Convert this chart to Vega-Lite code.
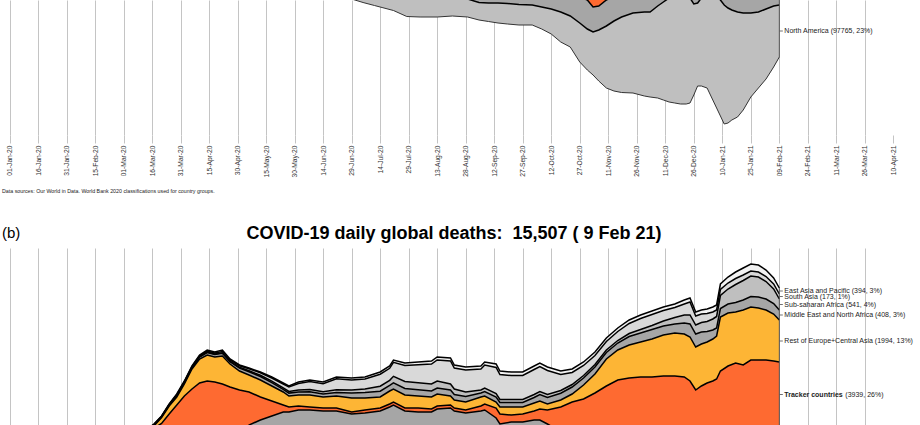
{
  "$schema": "https://vega.github.io/schema/vega-lite/v6.json",
  "background": "white",
  "padding": 0,
  "spacing": 113,
  "bounds": "flush",
  "config": {"view": {"stroke": null}, "font": "Liberation Sans"},
  "datasets": {
    "labels_a": [{"region": "NA", "lab": "North America (97765, 23%)"}],
    "labels_b": [
      {"region": "EAP", "lab": "East Asia and Pacific (394, 3%)"},
      {"region": "SA", "lab": "South Asia (173, 1%)"},
      {"region": "SSA", "lab": "Sub-saharan Africa (541, 4%)"},
      {"region": "MENA", "lab": "Middle East and North Africa (408, 3%)"},
      {"region": "ROE", "lab": "Rest of Europe+Central Asia (1994, 13%)"},
      {"region": "TRK", "lab": "Tracker countries", "extra": "(3939, 26%)"}
    ],
    "cases": [
      {"date":"2020-01-22","NA":0,"LAC":0,"TRK":0,"ROE":0,"MENA":0,"SSA":0,"SA":0,"EAP":500},
      {"date":"2020-02-05","NA":5,"LAC":0,"TRK":5,"ROE":0,"MENA":0,"SSA":0,"SA":0,"EAP":3500},
      {"date":"2020-02-19","NA":0,"LAC":0,"TRK":3,"ROE":0,"MENA":5,"SSA":0,"SA":0,"EAP":1500},
      {"date":"2020-03-01","NA":10,"LAC":2,"TRK":200,"ROE":10,"MENA":300,"SSA":0,"SA":0,"EAP":1500},
      {"date":"2020-03-08","NA":80,"LAC":10,"TRK":2000,"ROE":100,"MENA":900,"SSA":2,"SA":5,"EAP":700},
      {"date":"2020-03-15","NA":700,"LAC":100,"TRK":7500,"ROE":700,"MENA":1300,"SSA":30,"SA":20,"EAP":600},
      {"date":"2020-03-22","NA":7000,"LAC":500,"TRK":16000,"ROE":2500,"MENA":1500,"SSA":150,"SA":100,"EAP":900},
      {"date":"2020-03-29","NA":18000,"LAC":1500,"TRK":25000,"ROE":6000,"MENA":2800,"SSA":300,"SA":300,"EAP":1500},
      {"date":"2020-04-05","NA":29000,"LAC":3000,"TRK":26000,"ROE":9000,"MENA":3000,"SSA":500,"SA":700,"EAP":2500},
      {"date":"2020-04-12","NA":31000,"LAC":4500,"TRK":22000,"ROE":12000,"MENA":2500,"SSA":700,"SA":1200,"EAP":3500},
      {"date":"2020-04-19","NA":30000,"LAC":6000,"TRK":18000,"ROE":15000,"MENA":2300,"SSA":1000,"SA":1800,"EAP":3500},
      {"date":"2020-04-26","NA":31000,"LAC":8000,"TRK":15000,"ROE":16000,"MENA":2500,"SSA":1200,"SA":2200,"EAP":3000},
      {"date":"2020-05-03","NA":29000,"LAC":11000,"TRK":11000,"ROE":19000,"MENA":3500,"SSA":1500,"SA":3300,"EAP":2500},
      {"date":"2020-05-10","NA":26000,"LAC":15000,"TRK":8000,"ROE":20000,"MENA":4500,"SSA":2000,"SA":4500,"EAP":2000},
      {"date":"2020-05-17","NA":24000,"LAC":20000,"TRK":6000,"ROE":19000,"MENA":5500,"SSA":2500,"SA":6000,"EAP":1800},
      {"date":"2020-05-24","NA":23000,"LAC":26000,"TRK":4500,"ROE":17000,"MENA":6500,"SSA":3000,"SA":7500,"EAP":1800},
      {"date":"2020-05-31","NA":22000,"LAC":33000,"TRK":3500,"ROE":16000,"MENA":9000,"SSA":4000,"SA":9500,"EAP":2000},
      {"date":"2020-06-07","NA":21000,"LAC":40000,"TRK":3000,"ROE":15000,"MENA":11000,"SSA":5000,"SA":12500,"EAP":2500},
      {"date":"2020-06-14","NA":22000,"LAC":45000,"TRK":2500,"ROE":14000,"MENA":13000,"SSA":6500,"SA":15000,"EAP":3000},
      {"date":"2020-06-21","NA":29000,"LAC":50000,"TRK":2500,"ROE":14000,"MENA":14000,"SSA":8500,"SA":19000,"EAP":3500},
      {"date":"2020-06-25","NA":35000,"LAC":52000,"TRK":2500,"ROE":13500,"MENA":14500,"SSA":9500,"SA":17000,"EAP":4000},
      {"date":"2020-06-29","NA":40000,"LAC":53000,"TRK":2500,"ROE":13000,"MENA":15000,"SSA":10500,"SA":18000,"EAP":4000},
      {"date":"2020-07-05","NA":49000,"LAC":55000,"TRK":2500,"ROE":13500,"MENA":15500,"SSA":12000,"SA":20000,"EAP":2500},
      {"date":"2020-07-11","NA":58000,"LAC":56000,"TRK":2500,"ROE":12500,"MENA":14500,"SSA":12500,"SA":23000,"EAP":3000},
      {"date":"2020-07-15","NA":62000,"LAC":57000,"TRK":2500,"ROE":12500,"MENA":14500,"SSA":13000,"SA":25500,"EAP":3000},
      {"date":"2020-07-21","NA":64000,"LAC":58000,"TRK":3000,"ROE":13000,"MENA":14000,"SSA":14000,"SA":33000,"EAP":3000},
      {"date":"2020-07-28","NA":64000,"LAC":63000,"TRK":4000,"ROE":14000,"MENA":14000,"SSA":13000,"SA":48000,"EAP":6000},
      {"date":"2020-08-04","NA":58000,"LAC":62000,"TRK":5000,"ROE":14500,"MENA":13500,"SSA":11000,"SA":54000,"EAP":10000},
      {"date":"2020-08-13","NA":50000,"LAC":63000,"TRK":7000,"ROE":15000,"MENA":13000,"SSA":9000,"SA":61000,"EAP":10000},
      {"date":"2020-08-21","NA":44000,"LAC":58000,"TRK":9500,"ROE":16000,"MENA":13000,"SSA":7500,"SA":66000,"EAP":10000},
      {"date":"2020-08-29","NA":36000,"LAC":57000,"TRK":13000,"ROE":17000,"MENA":13500,"SSA":6000,"SA":74000,"EAP":11500},
      {"date":"2020-09-04","NA":35000,"LAC":56000,"TRK":16000,"ROE":18000,"MENA":14000,"SSA":5500,"SA":83000,"EAP":12500},
      {"date":"2020-09-09","NA":37000,"LAC":54000,"TRK":18000,"ROE":19000,"MENA":14500,"SSA":5000,"SA":86000,"EAP":12500},
      {"date":"2020-09-14","NA":40000,"LAC":52000,"TRK":20000,"ROE":20000,"MENA":15000,"SSA":5000,"SA":88000,"EAP":12000},
      {"date":"2020-09-19","NA":41000,"LAC":50000,"TRK":23000,"ROE":21000,"MENA":15500,"SSA":4500,"SA":89000,"EAP":12000},
      {"date":"2020-09-25","NA":41000,"LAC":50000,"TRK":27000,"ROE":23000,"MENA":16000,"SSA":4500,"SA":86000,"EAP":12500},
      {"date":"2020-10-02","NA":40000,"LAC":48000,"TRK":32000,"ROE":26000,"MENA":17000,"SSA":4500,"SA":80000,"EAP":12500},
      {"date":"2020-10-07","NA":44000,"LAC":48000,"TRK":40000,"ROE":30000,"MENA":18000,"SSA":4500,"SA":78000,"EAP":13500},
      {"date":"2020-10-12","NA":50000,"LAC":47000,"TRK":52000,"ROE":35000,"MENA":19000,"SSA":4500,"SA":75000,"EAP":13500},
      {"date":"2020-10-17","NA":60000,"LAC":47000,"TRK":70000,"ROE":42000,"MENA":20000,"SSA":4500,"SA":70000,"EAP":14500},
      {"date":"2020-10-22","NA":62000,"LAC":46000,"TRK":85000,"ROE":50000,"MENA":21000,"SSA":4500,"SA":65000,"EAP":14500},
      {"date":"2020-10-27","NA":78000,"LAC":52000,"TRK":112000,"ROE":62000,"MENA":23000,"SSA":4500,"SA":62000,"EAP":14500},
      {"date":"2020-10-31","NA":82000,"LAC":58000,"TRK":125000,"ROE":72000,"MENA":25000,"SSA":4500,"SA":58000,"EAP":15500},
      {"date":"2020-11-03","NA":86000,"LAC":50000,"TRK":140000,"ROE":80000,"MENA":26000,"SSA":4500,"SA":56000,"EAP":17500},
      {"date":"2020-11-06","NA":102000,"LAC":48000,"TRK":148000,"ROE":88000,"MENA":27000,"SSA":4500,"SA":50000,"EAP":16500},
      {"date":"2020-11-10","NA":124000,"LAC":52000,"TRK":150000,"ROE":95000,"MENA":28000,"SSA":5000,"SA":46000,"EAP":12000},
      {"date":"2020-11-14","NA":140000,"LAC":50000,"TRK":145000,"ROE":100000,"MENA":29000,"SSA":5000,"SA":43000,"EAP":12000},
      {"date":"2020-11-18","NA":151000,"LAC":48000,"TRK":138000,"ROE":105000,"MENA":30000,"SSA":5500,"SA":40000,"EAP":12500},
      {"date":"2020-11-24","NA":160000,"LAC":47000,"TRK":125000,"ROE":108000,"MENA":30000,"SSA":6000,"SA":42000,"EAP":14000},
      {"date":"2020-11-30","NA":168000,"LAC":50000,"TRK":118000,"ROE":112000,"MENA":29000,"SSA":7000,"SA":40000,"EAP":20000},
      {"date":"2020-12-03","NA":170000,"LAC":52000,"TRK":112000,"ROE":120000,"MENA":28000,"SSA":8000,"SA":38000,"EAP":20000},
      {"date":"2020-12-07","NA":184000,"LAC":54000,"TRK":105000,"ROE":118000,"MENA":27000,"SSA":9000,"SA":35000,"EAP":20000},
      {"date":"2020-12-10","NA":196000,"LAC":55000,"TRK":104000,"ROE":115000,"MENA":26000,"SSA":10000,"SA":33000,"EAP":21000},
      {"date":"2020-12-13","NA":208000,"LAC":56000,"TRK":105000,"ROE":112000,"MENA":25000,"SSA":11000,"SA":30000,"EAP":21000},
      {"date":"2020-12-16","NA":216000,"LAC":57000,"TRK":108000,"ROE":108000,"MENA":24000,"SSA":12000,"SA":27000,"EAP":20000},
      {"date":"2020-12-19","NA":220000,"LAC":58000,"TRK":112000,"ROE":105000,"MENA":23000,"SSA":13000,"SA":25000,"EAP":20000},
      {"date":"2020-12-22","NA":218000,"LAC":58000,"TRK":118000,"ROE":100000,"MENA":22000,"SSA":15000,"SA":24000,"EAP":21000},
      {"date":"2020-12-24","NA":210000,"LAC":58000,"TRK":122000,"ROE":98000,"MENA":21000,"SSA":16000,"SA":23000,"EAP":24000},
      {"date":"2020-12-26","NA":182000,"LAC":55000,"TRK":122000,"ROE":95000,"MENA":20000,"SSA":17000,"SA":22000,"EAP":27000},
      {"date":"2020-12-28","NA":166000,"LAC":52000,"TRK":115000,"ROE":90000,"MENA":19000,"SSA":17000,"SA":21000,"EAP":24000},
      {"date":"2020-12-30","NA":176000,"LAC":52000,"TRK":112000,"ROE":85000,"MENA":18000,"SSA":18000,"SA":20000,"EAP":23000},
      {"date":"2021-01-02","NA":192000,"LAC":52000,"TRK":112000,"ROE":80000,"MENA":17000,"SSA":19000,"SA":19000,"EAP":21000},
      {"date":"2021-01-05","NA":216000,"LAC":56000,"TRK":125000,"ROE":78000,"MENA":16500,"SSA":20000,"SA":18500,"EAP":30000},
      {"date":"2021-01-07","NA":224000,"LAC":60000,"TRK":135000,"ROE":80000,"MENA":16000,"SSA":21000,"SA":18000,"EAP":38000},
      {"date":"2021-01-09","NA":232000,"LAC":64000,"TRK":145000,"ROE":82000,"MENA":16000,"SSA":22000,"SA":18000,"EAP":45000},
      {"date":"2021-01-11","NA":238000,"LAC":68000,"TRK":160000,"ROE":90000,"MENA":16000,"SSA":22000,"SA":17000,"EAP":45000},
      {"date":"2021-01-13","NA":230000,"LAC":68000,"TRK":160000,"ROE":90000,"MENA":16000,"SSA":22000,"SA":17000,"EAP":49000},
      {"date":"2021-01-15","NA":220000,"LAC":70000,"TRK":158000,"ROE":90000,"MENA":16000,"SSA":21000,"SA":16000,"EAP":49000},
      {"date":"2021-01-18","NA":210000,"LAC":70000,"TRK":158000,"ROE":95000,"MENA":16000,"SSA":20000,"SA":16000,"EAP":43000},
      {"date":"2021-01-21","NA":194000,"LAC":70000,"TRK":150000,"ROE":92000,"MENA":16000,"SSA":18000,"SA":15000,"EAP":45000},
      {"date":"2021-01-25","NA":168000,"LAC":68000,"TRK":132000,"ROE":88000,"MENA":17000,"SSA":15000,"SA":14000,"EAP":46000},
      {"date":"2021-01-29","NA":152000,"LAC":66000,"TRK":125000,"ROE":88000,"MENA":17000,"SSA":12000,"SA":13000,"EAP":39000},
      {"date":"2021-02-02","NA":140000,"LAC":64000,"TRK":112000,"ROE":82000,"MENA":17500,"SSA":10000,"SA":12500,"EAP":38000},
      {"date":"2021-02-06","NA":122000,"LAC":62000,"TRK":98000,"ROE":76000,"MENA":18000,"SSA":8000,"SA":12000,"EAP":32000},
      {"date":"2021-02-09","NA":104000,"LAC":60000,"TRK":88000,"ROE":70000,"MENA":18000,"SSA":7000,"SA":11500,"EAP":29500}
    ],
    "deaths": [
      {"date":"2020-01-22","NA":0,"LAC":0,"TRK":0,"ROE":0,"MENA":0,"SSA":0,"SA":0,"EAP":20},
      {"date":"2020-02-05","NA":0,"LAC":0,"TRK":0,"ROE":0,"MENA":0,"SSA":0,"SA":0,"EAP":65},
      {"date":"2020-02-19","NA":0,"LAC":0,"TRK":0,"ROE":0,"MENA":1,"SSA":0,"SA":0,"EAP":120},
      {"date":"2020-03-01","NA":1,"LAC":0,"TRK":6,"ROE":0,"MENA":10,"SSA":0,"SA":0,"EAP":40},
      {"date":"2020-03-08","NA":3,"LAC":0,"TRK":60,"ROE":2,"MENA":45,"SSA":0,"SA":0,"EAP":30},
      {"date":"2020-03-13","NA":8,"LAC":1,"TRK":220,"ROE":12,"MENA":75,"SSA":0,"SA":1,"EAP":20},
      {"date":"2020-03-17","NA":110,"LAC":10,"TRK":520,"ROE":80,"MENA":48,"SSA":4,"SA":8,"EAP":20},
      {"date":"2020-03-21","NA":220,"LAC":20,"TRK":900,"ROE":240,"MENA":32,"SSA":4,"SA":4,"EAP":20},
      {"date":"2020-03-25","NA":550,"LAC":50,"TRK":1400,"ROE":320,"MENA":40,"SSA":8,"SA":8,"EAP":24},
      {"date":"2020-03-29","NA":780,"LAC":80,"TRK":1900,"ROE":320,"MENA":60,"SSA":12,"SA":16,"EAP":32},
      {"date":"2020-04-02","NA":1080,"LAC":110,"TRK":2450,"ROE":480,"MENA":60,"SSA":12,"SA":20,"EAP":28},
      {"date":"2020-04-06","NA":1460,"LAC":160,"TRK":2900,"ROE":800,"MENA":52,"SSA":16,"SA":24,"EAP":28},
      {"date":"2020-04-10","NA":1800,"LAC":200,"TRK":3200,"ROE":960,"MENA":80,"SSA":16,"SA":32,"EAP":32},
      {"date":"2020-04-14","NA":1930,"LAC":250,"TRK":3300,"ROE":1040,"MENA":100,"SSA":20,"SA":40,"EAP":40},
      {"date":"2020-04-18","NA":1960,"LAC":300,"TRK":3100,"ROE":1000,"MENA":100,"SSA":20,"SA":40,"EAP":40},
      {"date":"2020-04-22","NA":2050,"LAC":360,"TRK":2950,"ROE":1120,"MENA":108,"SSA":24,"SA":48,"EAP":60},
      {"date":"2020-04-26","NA":1850,"LAC":430,"TRK":2600,"ROE":920,"MENA":88,"SSA":24,"SA":48,"EAP":40},
      {"date":"2020-05-01","NA":1860,"LAC":560,"TRK":2100,"ROE":760,"MENA":116,"SSA":32,"SA":60,"EAP":32},
      {"date":"2020-05-06","NA":2250,"LAC":750,"TRK":1320,"ROE":680,"MENA":128,"SSA":40,"SA":80,"EAP":32},
      {"date":"2020-05-12","NA":2090,"LAC":950,"TRK":920,"ROE":680,"MENA":140,"SSA":48,"SA":100,"EAP":32},
      {"date":"2020-05-18","NA":1850,"LAC":1150,"TRK":600,"ROE":600,"MENA":132,"SSA":60,"SA":128,"EAP":40},
      {"date":"2020-05-24","NA":1570,"LAC":1350,"TRK":280,"ROE":520,"MENA":108,"SSA":60,"SA":152,"EAP":40},
      {"date":"2020-05-27","NA":1400,"LAC":1400,"TRK":200,"ROE":440,"MENA":116,"SSA":64,"SA":180,"EAP":40},
      {"date":"2020-06-01","NA":1390,"LAC":1650,"TRK":160,"ROE":440,"MENA":120,"SSA":80,"SA":260,"EAP":60},
      {"date":"2020-06-07","NA":1220,"LAC":1900,"TRK":120,"ROE":480,"MENA":132,"SSA":88,"SA":320,"EAP":60},
      {"date":"2020-06-14","NA":1000,"LAC":2000,"TRK":120,"ROE":440,"MENA":120,"SSA":92,"SA":320,"EAP":68},
      {"date":"2020-06-21","NA":1000,"LAC":2200,"TRK":120,"ROE":480,"MENA":140,"SSA":108,"SA":440,"EAP":72},
      {"date":"2020-06-29","NA":790,"LAC":2250,"TRK":80,"ROE":560,"MENA":200,"SSA":120,"SA":400,"EAP":80},
      {"date":"2020-07-06","NA":770,"LAC":2350,"TRK":120,"ROE":480,"MENA":220,"SSA":140,"SA":400,"EAP":80},
      {"date":"2020-07-14","NA":900,"LAC":2500,"TRK":120,"ROE":440,"MENA":232,"SSA":200,"SA":480,"EAP":88},
      {"date":"2020-07-19","NA":1000,"LAC":2800,"TRK":120,"ROE":520,"MENA":228,"SSA":200,"SA":480,"EAP":92},
      {"date":"2020-07-21","NA":1120,"LAC":3000,"TRK":120,"ROE":520,"MENA":248,"SSA":260,"SA":560,"EAP":92},
      {"date":"2020-07-27","NA":1060,"LAC":2700,"TRK":120,"ROE":520,"MENA":260,"SSA":280,"SA":640,"EAP":100},
      {"date":"2020-08-03","NA":1110,"LAC":2650,"TRK":160,"ROE":480,"MENA":252,"SSA":280,"SA":720,"EAP":108},
      {"date":"2020-08-10","NA":1100,"LAC":2700,"TRK":120,"ROE":480,"MENA":240,"SSA":280,"SA":800,"EAP":120},
      {"date":"2020-08-13","NA":1080,"LAC":3000,"TRK":120,"ROE":480,"MENA":240,"SSA":280,"SA":840,"EAP":120},
      {"date":"2020-08-20","NA":1080,"LAC":3000,"TRK":120,"ROE":360,"MENA":240,"SSA":240,"SA":920,"EAP":120},
      {"date":"2020-08-22","NA":1030,"LAC":2650,"TRK":120,"ROE":320,"MENA":220,"SSA":220,"SA":840,"EAP":120},
      {"date":"2020-08-28","NA":970,"LAC":2550,"TRK":120,"ROE":320,"MENA":220,"SSA":180,"SA":880,"EAP":120},
      {"date":"2020-09-05","NA":940,"LAC":2700,"TRK":200,"ROE":360,"MENA":160,"SSA":120,"SA":840,"EAP":120},
      {"date":"2020-09-07","NA":890,"LAC":2950,"TRK":240,"ROE":320,"MENA":180,"SSA":140,"SA":920,"EAP":120},
      {"date":"2020-09-13","NA":840,"LAC":2600,"TRK":400,"ROE":240,"MENA":200,"SSA":140,"SA":1040,"EAP":140},
      {"date":"2020-09-15","NA":820,"LAC":2100,"TRK":400,"ROE":280,"MENA":180,"SSA":120,"SA":1000,"EAP":140},
      {"date":"2020-09-21","NA":810,"LAC":2150,"TRK":280,"ROE":320,"MENA":180,"SSA":120,"SA":960,"EAP":140},
      {"date":"2020-09-27","NA":860,"LAC":2100,"TRK":320,"ROE":280,"MENA":180,"SSA":120,"SA":960,"EAP":140},
      {"date":"2020-10-03","NA":830,"LAC":2450,"TRK":360,"ROE":320,"MENA":220,"SSA":120,"SA":1000,"EAP":140},
      {"date":"2020-10-06","NA":850,"LAC":2550,"TRK":440,"ROE":320,"MENA":260,"SSA":120,"SA":1000,"EAP":140},
      {"date":"2020-10-10","NA":880,"LAC":2200,"TRK":560,"ROE":240,"MENA":260,"SSA":120,"SA":960,"EAP":140},
      {"date":"2020-10-17","NA":850,"LAC":1750,"TRK":1000,"ROE":280,"MENA":272,"SSA":108,"SA":640,"EAP":140},
      {"date":"2020-10-23","NA":930,"LAC":1750,"TRK":1200,"ROE":320,"MENA":280,"SSA":100,"SA":480,"EAP":140},
      {"date":"2020-10-29","NA":1060,"LAC":1700,"TRK":1520,"ROE":560,"MENA":280,"SSA":100,"SA":400,"EAP":140},
      {"date":"2020-11-04","NA":1300,"LAC":1700,"TRK":1920,"ROE":760,"MENA":280,"SSA":100,"SA":360,"EAP":140},
      {"date":"2020-11-10","NA":1640,"LAC":1800,"TRK":2320,"ROE":1080,"MENA":260,"SSA":100,"SA":340,"EAP":140},
      {"date":"2020-11-16","NA":1900,"LAC":1900,"TRK":2600,"ROE":1200,"MENA":280,"SSA":100,"SA":360,"EAP":140},
      {"date":"2020-11-22","NA":2100,"LAC":1900,"TRK":2800,"ROE":1320,"MENA":340,"SSA":120,"SA":400,"EAP":140},
      {"date":"2020-11-28","NA":2260,"LAC":1900,"TRK":2880,"ROE":1400,"MENA":360,"SSA":140,"SA":440,"EAP":140},
      {"date":"2020-12-04","NA":2370,"LAC":1950,"TRK":2880,"ROE":1520,"MENA":380,"SSA":160,"SA":440,"EAP":140},
      {"date":"2020-12-10","NA":2600,"LAC":2000,"TRK":2800,"ROE":1640,"MENA":360,"SSA":200,"SA":420,"EAP":140},
      {"date":"2020-12-16","NA":2700,"LAC":2100,"TRK":2720,"ROE":1720,"MENA":360,"SSA":260,"SA":400,"EAP":140},
      {"date":"2020-12-21","NA":2850,"LAC":2150,"TRK":2640,"ROE":1720,"MENA":440,"SSA":320,"SA":440,"EAP":160},
      {"date":"2020-12-24","NA":2880,"LAC":2200,"TRK":2480,"ROE":1760,"MENA":520,"SSA":360,"SA":520,"EAP":160},
      {"date":"2020-12-27","NA":2540,"LAC":1900,"TRK":2200,"ROE":1720,"MENA":520,"SSA":360,"SA":360,"EAP":160},
      {"date":"2020-12-30","NA":2560,"LAC":2000,"TRK":2320,"ROE":1680,"MENA":480,"SSA":380,"SA":340,"EAP":160},
      {"date":"2021-01-02","NA":2510,"LAC":2050,"TRK":2480,"ROE":1640,"MENA":420,"SSA":400,"SA":320,"EAP":180},
      {"date":"2021-01-05","NA":2460,"LAC":2100,"TRK":2640,"ROE":1680,"MENA":360,"SSA":440,"SA":280,"EAP":200},
      {"date":"2021-01-07","NA":2540,"LAC":2100,"TRK":2720,"ROE":1720,"MENA":320,"SSA":460,"SA":260,"EAP":200},
      {"date":"2021-01-09","NA":3240,"LAC":2400,"TRK":2880,"ROE":2160,"MENA":340,"SSA":520,"SA":240,"EAP":220},
      {"date":"2021-01-13","NA":3360,"LAC":2600,"TRK":3040,"ROE":2120,"MENA":360,"SSA":600,"SA":240,"EAP":240},
      {"date":"2021-01-17","NA":3400,"LAC":2800,"TRK":3120,"ROE":2040,"MENA":380,"SSA":720,"SA":240,"EAP":260},
      {"date":"2021-01-21","NA":3420,"LAC":2900,"TRK":3080,"ROE":2200,"MENA":400,"SSA":780,"SA":220,"EAP":280},
      {"date":"2021-01-25","NA":3620,"LAC":3100,"TRK":3040,"ROE":2120,"MENA":420,"SSA":820,"SA":200,"EAP":280},
      {"date":"2021-01-29","NA":3600,"LAC":3200,"TRK":2920,"ROE":2080,"MENA":440,"SSA":800,"SA":200,"EAP":280},
      {"date":"2021-02-02","NA":3520,"LAC":3200,"TRK":2800,"ROE":2000,"MENA":440,"SSA":700,"SA":200,"EAP":260},
      {"date":"2021-02-06","NA":3290,"LAC":3150,"TRK":2720,"ROE":1880,"MENA":420,"SSA":580,"SA":200,"EAP":240},
      {"date":"2021-02-09","NA":3070,"LAC":3050,"TRK":2600,"ROE":1680,"MENA":400,"SSA":440,"SA":200,"EAP":240}
    ]
  },
  "vconcat": [
    {
      "width": 920,
      "height": 135,
      "title": {
        "text": "Data sources: Our World in Data. World Bank 2020 classifications used for country groups.",
        "subtitle": "(b)",
        "orient": "bottom",
        "anchor": "start",
        "frame": "group",
        "font": "Liberation Sans",
        "fontSize": 5.3,
        "fontWeight": "normal",
        "color": "#222222",
        "offset": 12,
        "dx": 2,
        "subtitleFont": "Liberation Sans",
        "subtitleFontSize": 15,
        "subtitleColor": "#000000",
        "subtitlePadding": 32
      },
      "data": {"name": "cases"},
      "transform": [
        {"fold": ["NA", "LAC", "TRK", "ROE", "MENA", "SSA", "SA", "EAP"], "as": ["region", "v"]},
        {"stack": "v", "groupby": ["date"], "offset": "center", "as": ["y0", "y1"]}
      ],
      "encoding": {
        "x": {
          "field": "date", "type": "temporal",
          "scale": {"type": "utc", "domain": [{"year": 2019, "month": 12, "date": 27, "utc": true}, {"year": 2021, "month": 4, "date": 24, "utc": true}]},
          "axis": {
            "title": null,
            "values": [
              {"year":2020,"month":1,"date":1,"utc":true},{"year":2020,"month":1,"date":16,"utc":true},{"year":2020,"month":1,"date":31,"utc":true},{"year":2020,"month":2,"date":15,"utc":true},{"year":2020,"month":3,"date":1,"utc":true},{"year":2020,"month":3,"date":16,"utc":true},{"year":2020,"month":3,"date":31,"utc":true},{"year":2020,"month":4,"date":15,"utc":true},{"year":2020,"month":4,"date":30,"utc":true},{"year":2020,"month":5,"date":15,"utc":true},{"year":2020,"month":5,"date":30,"utc":true},{"year":2020,"month":6,"date":14,"utc":true},{"year":2020,"month":6,"date":29,"utc":true},{"year":2020,"month":7,"date":14,"utc":true},{"year":2020,"month":7,"date":29,"utc":true},{"year":2020,"month":8,"date":13,"utc":true},{"year":2020,"month":8,"date":28,"utc":true},{"year":2020,"month":9,"date":12,"utc":true},{"year":2020,"month":9,"date":27,"utc":true},{"year":2020,"month":10,"date":12,"utc":true},{"year":2020,"month":10,"date":27,"utc":true},{"year":2020,"month":11,"date":11,"utc":true},{"year":2020,"month":11,"date":26,"utc":true},{"year":2020,"month":12,"date":11,"utc":true},{"year":2020,"month":12,"date":26,"utc":true},{"year":2021,"month":1,"date":10,"utc":true},{"year":2021,"month":1,"date":25,"utc":true},{"year":2021,"month":2,"date":9,"utc":true},{"year":2021,"month":2,"date":24,"utc":true},{"year":2021,"month":3,"date":11,"utc":true},{"year":2021,"month":3,"date":26,"utc":true},{"year":2021,"month":4,"date":10,"utc":true}
            ],
            "format": "%d-%b-%y",
            "labelAngle": -90,
            "labelFont": "Liberation Sans",
            "labelFontSize": 6.7,
            "labelColor": "#333333",
            "labelPadding": 2,
            "labelOverlap": false,
            "labelBound": false,
            "labelFlush": false,
            "domain": false,
            "ticks": true,
            "tickSize": 8,
            "tickColor": "#c4c4c4",
            "tickWidth": 1,
            "grid": true,
            "gridColor": "#c4c4c4",
            "gridWidth": 1,
            "gridOpacity": {"condition": {"test": "datum.value > 1617500000000", "value": 0}, "value": 1}
          }
        }
      },
      "layer": [
        {
          "mark": {"type": "area", "clip": true},
          "encoding": {
            "y": {"field": "y1", "type": "quantitative", "scale": {"domain": [-22000, 248000], "zero": false, "nice": false}, "axis": null},
            "y2": {"field": "y0"},
            "color": {"field": "region", "type": "nominal", "legend": null,
              "scale": {"domain": ["NA", "LAC", "TRK", "ROE", "MENA", "SSA", "SA", "EAP"], "range": ["#bfbfbf", "#a6a6a6", "#fe6a31", "#fdb535", "#a6a6a6", "#bfbfbf", "#d9d9d9", "#f2f2f2"]}}
          }
        },
        {
          "mark": {"type": "line", "clip": true, "color": "#000000", "strokeWidth": 1.5},
          "encoding": {
            "y": {"field": "y1", "type": "quantitative", "axis": null},
            "detail": {"field": "region", "type": "nominal"}
          }
        },
        {
          "transform": [{"filter": "datum.region == 'NA'"}],
          "mark": {"type": "line", "clip": true, "color": "#333333", "strokeWidth": 1},
          "encoding": {"y": {"field": "y0", "type": "quantitative", "axis": null}}
        },
        {
          "transform": [{"filter": "utcyear(datum.date) == 2021 && utcmonth(datum.date) == 1 && utcdate(datum.date) == 9"}],
          "mark": {"type": "rule", "clip": true, "color": "#555555", "strokeWidth": 1},
          "encoding": {
            "y": {"aggregate": "min", "field": "y0", "type": "quantitative", "axis": null},
            "y2": {"aggregate": "max", "field": "y1"}
          }
        },
        {
          "transform": [
            {"filter": "utcyear(datum.date) == 2021 && utcmonth(datum.date) == 1 && utcdate(datum.date) == 9"},
            {"fold": ["y0", "y1"], "as": ["k", "yy"]},
            {"aggregate": [{"op": "mean", "field": "yy", "as": "ym"}], "groupby": ["region", "date"]},
            {"lookup": "region", "from": {"data": {"name": "labels_a"}, "key": "region", "fields": ["lab"]}},
            {"filter": "datum.lab != null"}
          ],
          "layer": [
            {
              "mark": {"type": "tick", "orient": "horizontal", "size": 3, "thickness": 1, "xOffset": 2, "color": "#333333", "clip": true},
              "encoding": {"y": {"field": "ym", "type": "quantitative", "axis": null}}
            },
            {
              "mark": {"type": "text", "align": "left", "baseline": "middle", "dx": 5, "clip": true, "font": "Liberation Sans", "fontSize": 7, "color": "#222222"},
              "encoding": {"y": {"field": "ym", "type": "quantitative", "axis": null}, "text": {"field": "lab"}}
            }
          ]
        }
      ]
    },
    {
      "width": 920,
      "height": 177,
      "title": {
        "text": "COVID-19 daily global deaths: \u00a015,507 (\u00a09 Feb 21)",
        "anchor": "middle",
        "font": "Liberation Sans",
        "fontSize": 18,
        "fontWeight": "bold",
        "color": "#000000",
        "offset": 5,
        "dx": -6
      },
      "data": {"name": "deaths"},
      "transform": [
        {"fold": ["NA", "LAC", "TRK", "ROE", "MENA", "SSA", "SA", "EAP"], "as": ["region", "v"]},
        {"stack": "v", "groupby": ["date"], "offset": "center", "as": ["y0", "y1"]}
      ],
      "encoding": {
        "x": {
          "field": "date", "type": "temporal",
          "scale": {"type": "utc", "domain": [{"year": 2019, "month": 12, "date": 27, "utc": true}, {"year": 2021, "month": 4, "date": 24, "utc": true}]},
          "axis": {
            "title": null,
            "values": [
              {"year":2020,"month":1,"date":1,"utc":true},{"year":2020,"month":1,"date":16,"utc":true},{"year":2020,"month":1,"date":31,"utc":true},{"year":2020,"month":2,"date":15,"utc":true},{"year":2020,"month":3,"date":1,"utc":true},{"year":2020,"month":3,"date":16,"utc":true},{"year":2020,"month":3,"date":31,"utc":true},{"year":2020,"month":4,"date":15,"utc":true},{"year":2020,"month":4,"date":30,"utc":true},{"year":2020,"month":5,"date":15,"utc":true},{"year":2020,"month":5,"date":30,"utc":true},{"year":2020,"month":6,"date":14,"utc":true},{"year":2020,"month":6,"date":29,"utc":true},{"year":2020,"month":7,"date":14,"utc":true},{"year":2020,"month":7,"date":29,"utc":true},{"year":2020,"month":8,"date":13,"utc":true},{"year":2020,"month":8,"date":28,"utc":true},{"year":2020,"month":9,"date":12,"utc":true},{"year":2020,"month":9,"date":27,"utc":true},{"year":2020,"month":10,"date":12,"utc":true},{"year":2020,"month":10,"date":27,"utc":true},{"year":2020,"month":11,"date":11,"utc":true},{"year":2020,"month":11,"date":26,"utc":true},{"year":2020,"month":12,"date":11,"utc":true},{"year":2020,"month":12,"date":26,"utc":true},{"year":2021,"month":1,"date":10,"utc":true},{"year":2021,"month":1,"date":25,"utc":true},{"year":2021,"month":2,"date":9,"utc":true},{"year":2021,"month":2,"date":24,"utc":true},{"year":2021,"month":3,"date":11,"utc":true},{"year":2021,"month":3,"date":26,"utc":true}
            ],
            "labels": false,
            "ticks": false,
            "domain": false,
            "grid": true,
            "gridColor": "#c4c4c4",
            "gridWidth": 1
          }
        }
      },
      "layer": [
        {
          "mark": {"type": "area", "clip": true},
          "encoding": {
            "y": {"field": "y1", "type": "quantitative", "scale": {"domain": [7160, 14240], "zero": false, "nice": false}, "axis": null},
            "y2": {"field": "y0"},
            "color": {"field": "region", "type": "nominal", "legend": null,
              "scale": {"domain": ["NA", "LAC", "TRK", "ROE", "MENA", "SSA", "SA", "EAP"], "range": ["#bfbfbf", "#a6a6a6", "#fe6a31", "#fdb535", "#a6a6a6", "#bfbfbf", "#d9d9d9", "#f2f2f2"]}}
          }
        },
        {
          "mark": {"type": "line", "clip": true, "color": "#000000", "strokeWidth": 1.5},
          "encoding": {
            "y": {"field": "y1", "type": "quantitative", "axis": null},
            "detail": {"field": "region", "type": "nominal"}
          }
        },
        {
          "transform": [{"filter": "utcyear(datum.date) == 2021 && utcmonth(datum.date) == 1 && utcdate(datum.date) == 9"}],
          "mark": {"type": "rule", "clip": true, "color": "#555555", "strokeWidth": 1},
          "encoding": {
            "y": {"aggregate": "min", "field": "y0", "type": "quantitative", "axis": null},
            "y2": {"aggregate": "max", "field": "y1"}
          }
        },
        {
          "transform": [
            {"filter": "utcyear(datum.date) == 2021 && utcmonth(datum.date) == 1 && utcdate(datum.date) == 9"},
            {"fold": ["y0", "y1"], "as": ["k", "yy"]},
            {"aggregate": [{"op": "mean", "field": "yy", "as": "ym"}], "groupby": ["region", "date"]},
            {"lookup": "region", "from": {"data": {"name": "labels_b"}, "key": "region", "fields": ["lab", "extra"]}},
            {"filter": "datum.lab != null"}
          ],
          "layer": [
            {
              "mark": {"type": "tick", "orient": "horizontal", "size": 3, "thickness": 1, "xOffset": 2, "color": "#333333", "clip": true},
              "encoding": {"y": {"field": "ym", "type": "quantitative", "axis": null}}
            },
            {
              "transform": [{"filter": "datum.region != 'TRK'"}],
              "mark": {"type": "text", "align": "left", "baseline": "middle", "dx": 5, "clip": true, "font": "Liberation Sans", "fontSize": 7, "color": "#222222"},
              "encoding": {"y": {"field": "ym", "type": "quantitative", "axis": null}, "text": {"field": "lab"}}
            },
            {
              "transform": [{"filter": "datum.region == 'TRK'"}],
              "mark": {"type": "text", "align": "left", "baseline": "middle", "dx": 5, "clip": true, "font": "Liberation Sans", "fontSize": 7, "fontWeight": "bold", "color": "#222222"},
              "encoding": {"y": {"field": "ym", "type": "quantitative", "axis": null}, "text": {"field": "lab"}}
            },
            {
              "transform": [{"filter": "datum.region == 'TRK'"}],
              "mark": {"type": "text", "align": "left", "baseline": "middle", "dx": 66, "clip": true, "font": "Liberation Sans", "fontSize": 7, "color": "#222222"},
              "encoding": {"y": {"field": "ym", "type": "quantitative", "axis": null}, "text": {"field": "extra"}}
            }
          ]
        }
      ]
    }
  ]
}
